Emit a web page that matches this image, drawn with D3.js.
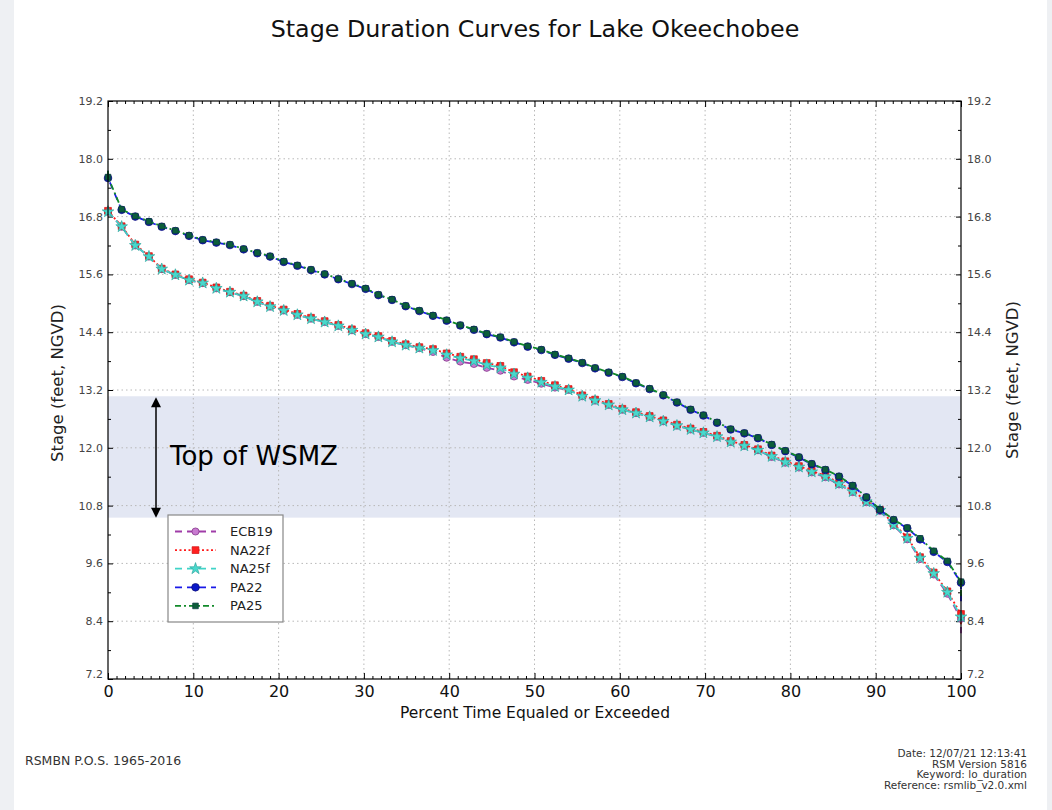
<!DOCTYPE html>
<html><head><meta charset="utf-8">
<script src="https://cdn.jsdelivr.net/npm/d3@7"></script>
<style>
body{margin:0;background:#fff}
svg{display:block}
text{font-family:"DejaVu Sans",sans-serif}
</style>
</head><body>
<svg id="c" width="1052" height="810"></svg>
<script>
// ---------- data ----------
const PCT = [0,1.6,3.2,4.8,6.3,7.9,9.5,11.1,12.7,14.3,15.9,17.5,19.0,20.6,22.2,23.8,25.4,27.0,28.6,30.2,31.7,33.3,34.9,36.5,38.1,39.7,41.3,42.9,44.4,46.0,47.6,49.2,50.8,52.4,54.0,55.6,57.1,58.7,60.3,61.9,63.5,65.1,66.7,68.3,69.8,71.4,73.0,74.6,76.2,77.8,79.4,81.0,82.5,84.1,85.7,87.3,88.9,90.5,92.1,93.7,95.2,96.8,98.4,100];

const ECB19 = [16.9,16.59,16.2,15.97,15.71,15.59,15.48,15.42,15.31,15.23,15.15,15.03,14.93,14.85,14.76,14.68,14.61,14.53,14.44,14.36,14.3,14.2,14.13,14.07,13.99,13.87,13.79,13.74,13.66,13.6,13.48,13.41,13.33,13.25,13.2,13.07,12.98,12.89,12.79,12.72,12.64,12.55,12.46,12.38,12.31,12.23,12.12,12.04,11.95,11.81,11.69,11.59,11.49,11.39,11.24,11.08,10.87,10.69,10.39,10.1,9.69,9.37,8.97,8.45];
const NA22f = [16.92,16.6,16.22,15.98,15.72,15.6,15.5,15.43,15.33,15.24,15.16,15.05,14.95,14.87,14.78,14.7,14.63,14.55,14.46,14.38,14.32,14.22,14.15,14.09,14.05,13.96,13.89,13.84,13.76,13.7,13.57,13.48,13.39,13.3,13.22,13.09,13.0,12.91,12.81,12.74,12.66,12.57,12.48,12.4,12.33,12.25,12.14,12.06,11.97,11.84,11.72,11.62,11.52,11.42,11.27,11.11,10.9,10.71,10.42,10.14,9.73,9.41,9.02,8.55];
const NA25f = [16.9,16.59,16.2,15.97,15.71,15.59,15.48,15.42,15.31,15.23,15.15,15.03,14.93,14.85,14.76,14.68,14.61,14.53,14.44,14.36,14.3,14.2,14.13,14.07,14.02,13.93,13.86,13.8,13.72,13.66,13.53,13.45,13.36,13.27,13.2,13.07,12.98,12.89,12.79,12.72,12.64,12.55,12.46,12.38,12.31,12.23,12.12,12.04,11.95,11.82,11.7,11.6,11.5,11.4,11.25,11.09,10.88,10.7,10.4,10.12,9.71,9.39,9.0,8.49];
const PA22 = [17.6,16.94,16.8,16.69,16.59,16.5,16.4,16.31,16.26,16.21,16.12,16.04,15.97,15.86,15.78,15.69,15.6,15.5,15.4,15.3,15.17,15.07,14.94,14.84,14.74,14.64,14.54,14.45,14.36,14.29,14.19,14.1,14.03,13.93,13.85,13.76,13.65,13.56,13.47,13.34,13.22,13.09,12.94,12.79,12.67,12.52,12.38,12.3,12.2,12.06,11.93,11.8,11.66,11.54,11.4,11.21,10.97,10.71,10.5,10.33,10.1,9.84,9.63,9.2];
const PA25 = [17.62,16.95,16.81,16.7,16.6,16.51,16.41,16.32,16.27,16.22,16.13,16.05,15.98,15.87,15.79,15.7,15.61,15.51,15.41,15.31,15.18,15.08,14.95,14.85,14.75,14.65,14.55,14.46,14.37,14.3,14.2,14.11,14.04,13.94,13.86,13.77,13.66,13.57,13.48,13.35,13.23,13.1,12.95,12.8,12.68,12.53,12.39,12.31,12.21,12.07,11.94,11.81,11.67,11.55,11.41,11.22,10.98,10.72,10.51,10.34,10.12,9.86,9.65,9.22];

const SERIES_NAMES = ["ECB19","NA22f","NA25f","PA22","PA25"];
const START_STAGE = [null,null,null,17.75,17.75];   // line-only start at 0 %
const END_STAGE   = [8.15,8.3,8.4,8.8,8.9];          // line-only end at 100 %

const X_TICKS = [0,10,20,30,40,50,60,70,80,90,100];
const Y_TICKS = [7.2,8.4,9.6,10.8,12.0,13.2,14.4,15.6,16.8,18.0,19.2];
const WSMZ = [10.55, 13.07];

// ---------- styles ----------
const STYLE = {
  ECB19:{color:"#a03ca8", dash:"7,5",     sym:d3.symbolCircle, size:40, fill:"#c87ad0", stroke:"#7a2a80"},
  NA22f:{color:"#ff1a1a", dash:"2,2.5",   sym:d3.symbolSquare, size:46, fill:"#ff2020", stroke:"#d01010"},
  NA25f:{color:"#40d4c8", dash:"7,5",     sym:d3.symbolStar,   size:42, fill:"#48d8cc", stroke:"#30a8a0"},
  PA22: {color:"#1a1ae8", dash:"7,5",     sym:d3.symbolCircle, size:46, fill:"#0a18c8", stroke:"#0a0a70"},
  PA25: {color:"#128a2a", dash:"6,3,2,3", sym:d3.symbolSquare, size:32, fill:"#0c5e3a", stroke:"#0a3a40"}
};
const DATA = {ECB19, NA22f, NA25f, PA22, PA25};

// ---------- layout ----------
const svg = d3.select("#c");
const W = 1052, H = 810;
const L = 108, R = 961, T = 101, B = 679;

svg.append("rect").attr("width",W).attr("height",H).attr("fill","#eef0f3");
svg.append("rect").attr("x",14).attr("width",1033).attr("height",H).attr("fill","#fff");

const x = d3.scaleLinear([0,100],[L,R]);
const y = d3.scaleLinear([7.2,19.2],[B,T]);

// title
svg.append("text").attr("x",535).attr("y",37).attr("text-anchor","middle")
  .attr("font-size",23.8).attr("fill","#111").text("Stage Duration Curves for Lake Okeechobee");

// WSMZ band
svg.append("rect").attr("x",L).attr("width",R-L)
  .attr("y",y(WSMZ[1])).attr("height",y(WSMZ[0])-y(WSMZ[1]))
  .attr("fill","#e3e7f3");

// grid
const grid = svg.append("g").attr("stroke","#b8b8b8").attr("stroke-width",1).attr("stroke-dasharray","1.5,3");
X_TICKS.slice(1,-1).forEach(v=>grid.append("line").attr("x1",x(v)).attr("x2",x(v)).attr("y1",T).attr("y2",B));
Y_TICKS.slice(1,-1).forEach(v=>grid.append("line").attr("y1",y(v)).attr("y2",y(v)).attr("x1",L).attr("x2",R));

// axes
const xMinor = d3.range(0,101,1).filter(v=>v%10!==0);
const yMinor = Y_TICKS.slice(0,-1).map(v=>+(v+0.6).toFixed(1));
function styleAxis(g){ g.select(".domain").remove(); g.selectAll("line").attr("stroke","#000"); }
function yLabels(g){
  g.selectAll("text").attr("font-size",11).attr("fill","#444").attr("font-family","DejaVu Sans")
   .filter(d=>d===7.2).attr("dy","-0.12em");
}

svg.append("g").attr("transform",`translate(0,${B})`)
  .call(d3.axisBottom(x).tickValues(X_TICKS).tickSize(-6).tickPadding(7).tickFormat(d3.format("d")))
  .call(styleAxis).call(g=>g.selectAll("text").attr("font-size",16).attr("fill","#111").attr("font-family","DejaVu Sans"));
svg.append("g").attr("transform",`translate(0,${B})`)
  .call(d3.axisBottom(x).tickValues(xMinor).tickSize(-3).tickFormat(""))
  .call(styleAxis);
svg.append("g").attr("transform",`translate(0,${T})`)
  .call(d3.axisTop(x).tickValues(X_TICKS).tickSize(-6).tickFormat(""))
  .call(styleAxis);
svg.append("g").attr("transform",`translate(0,${T})`)
  .call(d3.axisTop(x).tickValues(xMinor).tickSize(-3).tickFormat(""))
  .call(styleAxis);

svg.append("g").attr("transform",`translate(${L},0)`)
  .call(d3.axisLeft(y).tickValues(Y_TICKS).tickSize(-5).tickPadding(5).tickFormat(d3.format(".1f")))
  .call(styleAxis).call(yLabels);
svg.append("g").attr("transform",`translate(${L},0)`)
  .call(d3.axisLeft(y).tickValues(yMinor).tickSize(-3).tickFormat(""))
  .call(styleAxis);
svg.append("g").attr("transform",`translate(${R},0)`)
  .call(d3.axisRight(y).tickValues(Y_TICKS).tickSize(-5).tickPadding(6).tickFormat(d3.format(".1f")))
  .call(styleAxis).call(yLabels);
svg.append("g").attr("transform",`translate(${R},0)`)
  .call(d3.axisRight(y).tickValues(yMinor).tickSize(-3).tickFormat(""))
  .call(styleAxis);

// axis titles
svg.append("text").attr("x",535).attr("y",718).attr("text-anchor","middle")
  .attr("font-size",15.5).attr("fill","#111").text("Percent Time Equaled or Exceeded");
svg.append("text").attr("transform","translate(63,383) rotate(-90)").attr("text-anchor","middle")
  .attr("font-size",16.5).attr("fill","#222").text("Stage (feet, NGVD)");
svg.append("text").attr("transform","translate(1018,380) rotate(-90)").attr("text-anchor","middle")
  .attr("font-size",16.5).attr("fill","#222").text("Stage (feet, NGVD)");

// series
const line = d3.line().x(d=>x(d[0])).y(d=>y(d[1]));
const plot = svg.append("g");
SERIES_NAMES.forEach((name,i)=>{
  const st = STYLE[name], vals = DATA[name];
  const pts = PCT.map((p,j)=>[p, vals[j]]);
  const lp = (START_STAGE[i]!=null ? [[0,START_STAGE[i]]] : []).concat(pts, [[100, END_STAGE[i]]]);
  plot.append("path").attr("d",line(lp)).attr("fill","none")
    .attr("stroke",st.color).attr("stroke-width",1.8).attr("stroke-dasharray",st.dash);
  plot.append("g").selectAll("path").data(pts).join("path")
    .attr("transform",d=>`translate(${x(d[0])},${y(d[1])})`)
    .attr("d",d3.symbol(st.sym,st.size))
    .attr("fill",st.fill).attr("stroke",st.stroke).attr("stroke-width",0.7);
});

// frame
svg.append("rect").attr("x",L).attr("y",T).attr("width",R-L).attr("height",B-T)
  .attr("fill","none").attr("stroke","#000").attr("stroke-width",1.2);

// WSMZ arrow + label
const ax = 156;
svg.append("line").attr("x1",ax).attr("x2",ax).attr("y1",y(WSMZ[1])+8).attr("y2",y(WSMZ[0])-8)
  .attr("stroke","#000").attr("stroke-width",1.5);
svg.append("path").attr("d",`M${ax},${y(WSMZ[1])+1} l-5,10 l10,0 z`).attr("fill","#000");
svg.append("path").attr("d",`M${ax},${y(WSMZ[0])} l-5,-10 l10,0 z`).attr("fill","#000");
svg.append("text").attr("x",170).attr("y",465).attr("font-family","'Open Sans',sans-serif")
  .attr("font-size",26).attr("fill","#000").text("Top of WSMZ");

// legend
const lg = svg.append("g");
lg.append("rect").attr("x",168).attr("y",515).attr("width",115).attr("height",107)
  .attr("fill","#fff").attr("stroke","#888").attr("stroke-width",1.2);
SERIES_NAMES.forEach((name,i)=>{
  const st = STYLE[name], yy = 531.5 + i*18.6;
  lg.append("line").attr("x1",175).attr("x2",216).attr("y1",yy).attr("y2",yy)
    .attr("stroke",st.color).attr("stroke-width",1.8).attr("stroke-dasharray",st.dash);
  lg.append("path").attr("transform",`translate(195.5,${yy})`).attr("d",d3.symbol(st.sym,st.size))
    .attr("fill",st.fill).attr("stroke",st.stroke).attr("stroke-width",0.7);
  lg.append("text").attr("x",230).attr("y",yy+4.5).attr("font-size",13).attr("fill","#222").text(name);
});

// footer
svg.append("text").attr("x",25).attr("y",765).attr("font-size",12.5).attr("fill","#333").text("RSMBN P.O.S. 1965-2016");
const FOOT = ["Date: 12/07/21 12:13:41","RSM Version 5816","Keyword: lo_duration","Reference: rsmlib_v2.0.xml"];
FOOT.forEach((t,i)=>svg.append("text").attr("x",1027).attr("y",757+i*10.7).attr("text-anchor","end")
  .attr("font-size",10.5).attr("fill","#333").text(t));
</script>
</body></html>
